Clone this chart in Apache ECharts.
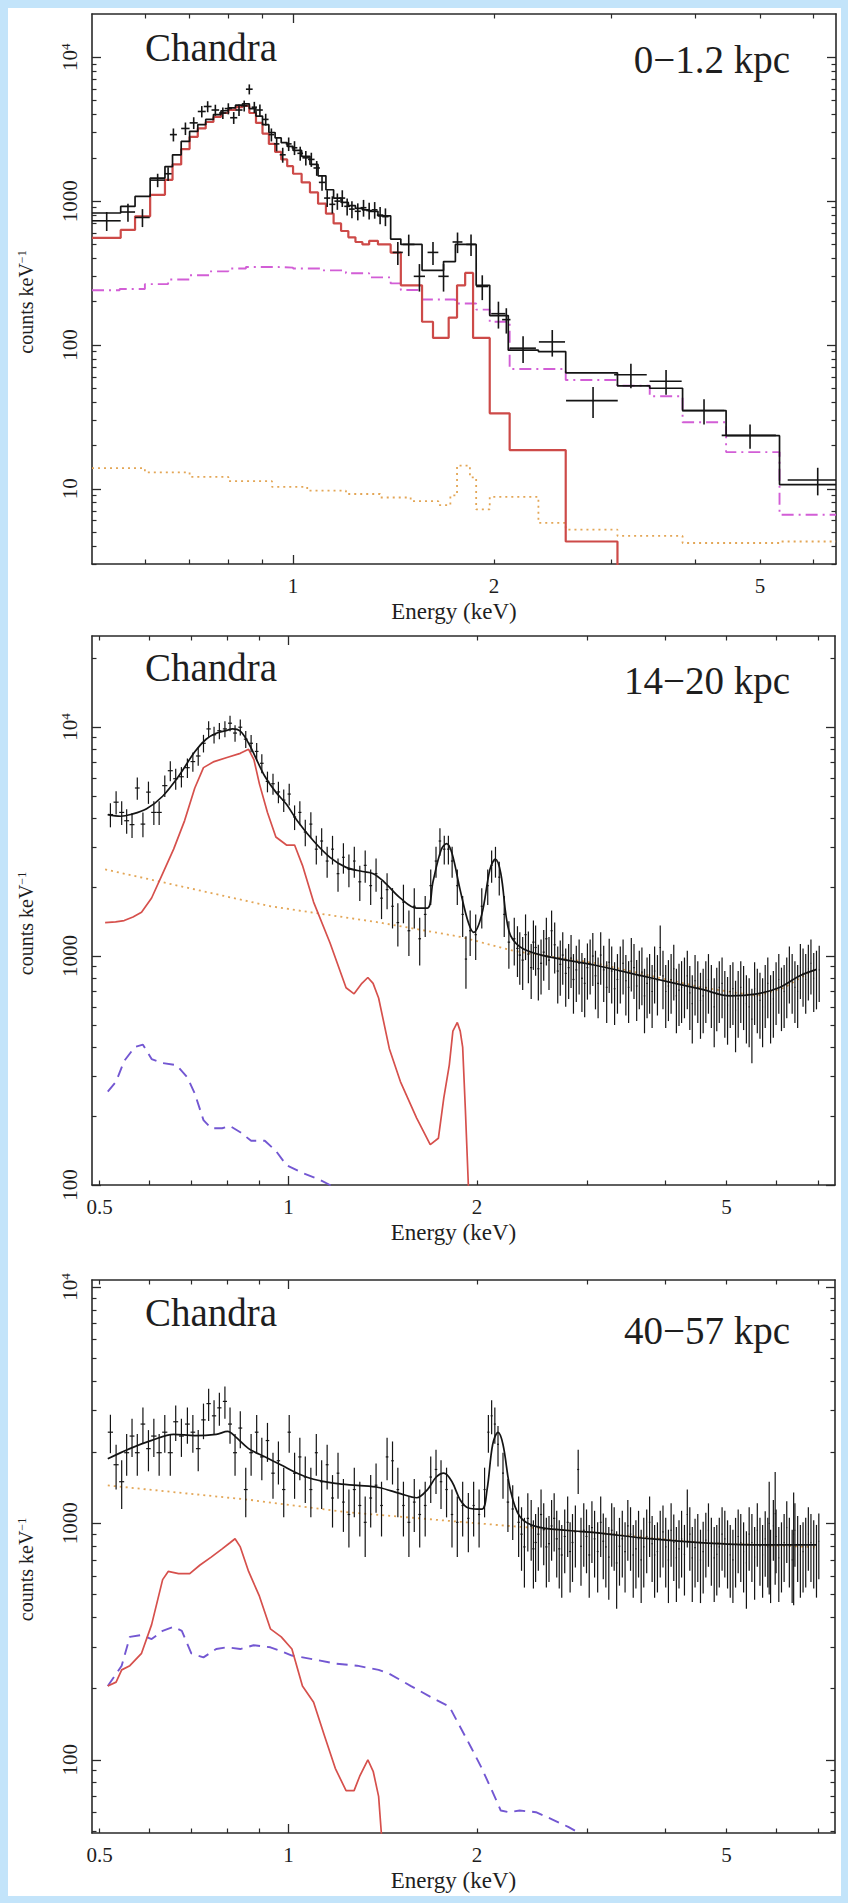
<!DOCTYPE html>
<html><head><meta charset="utf-8">
<script src="https://cdn.jsdelivr.net/npm/echarts@6/dist/echarts.min.js"></script>
<style>
html,body{margin:0;padding:0;background:#c3e4fa;width:848px;height:1903px;overflow:hidden;}
#card{position:absolute;left:8px;top:8px;width:833px;height:1888px;background:#fff;}
#chart{position:absolute;left:0;top:0;width:848px;height:1903px;}
</style></head>
<body><div id="card"></div><div id="chart"></div>
<script>
// ---------------- tick / label values ----------------
const X_MAJOR = [1];
const X_MINOR_P1 = [0.6,0.7,0.8,0.9,2,3,4,5,6];
const X_MINOR_P23 = [0.5,0.6,0.7,0.8,0.9,2,3,4,5,6,7];
const X_LABELS_P1 = [1,2,5];
const X_LABELS_P23 = [0.5,1,2,5];
const Y_LABELS_P1 = [10,100,1000,10000];
const Y_MINOR_P1 = [3,4,5,6,7,8,9,20,30,40,50,60,70,80,90,200,300,400,500,600,700,800,900,2000,3000,4000,5000,6000,7000,8000,9000];
const Y_LABELS_P2 = [100,1000,10000];
const Y_MINOR_P2 = [200,300,400,500,600,700,800,900,2000,3000,4000,5000,6000,7000,8000,9000,20000];
const Y_LABELS_P3 = [100,1000,10000];
const Y_MINOR_P3 = [50,60,70,80,90,200,300,400,500,600,700,800,900,2000,3000,4000,5000,6000,7000,8000,9000];

// ---------------- panel 1 (0-1.2 kpc) ----------------
const P1_MODEL = [[0.500,827],[0.552,918],[0.580,1078],[0.611,1445],[0.643,1739],[0.660,2100],[0.680,2600],[0.700,3050],[0.720,3400],[0.740,3700],[0.760,4000],[0.780,4250],[0.800,4450],[0.820,4650],[0.840,4750],[0.860,4400],[0.880,3900],[0.900,3400],[0.920,3000],[0.940,2750],[0.960,2550],[0.980,2400],[1.000,2250],[1.030,2050],[1.060,1800],[1.090,1500],[1.120,1200],[1.150,1050],[1.180,980],[1.210,930],[1.240,890],[1.270,870],[1.300,850],[1.340,790],[1.400,545],[1.450,500],[1.560,330],[1.680,380],[1.750,500],[1.880,260],[1.970,160],[2.100,92],[2.330,90],[2.560,64],[3.060,52],[3.420,50],[3.830,35],[4.450,23.4],[5.350,10.7],[6.500,10.7]];
const P1_RED = [[0.500,555],[0.552,631],[0.580,784],[0.611,1107],[0.643,1406],[0.660,1800],[0.680,2300],[0.700,2800],[0.720,3200],[0.740,3550],[0.760,3850],[0.780,4100],[0.800,4300],[0.820,4500],[0.840,4600],[0.860,4100],[0.880,3500],[0.900,2950],[0.920,2500],[0.940,2200],[0.960,1950],[0.980,1750],[1.000,1550],[1.030,1350],[1.060,1150],[1.090,960],[1.120,820],[1.150,700],[1.180,620],[1.210,560],[1.240,520],[1.270,500],[1.300,530],[1.340,500],[1.400,439],[1.450,260],[1.560,145],[1.620,112],[1.710,155],[1.760,260],[1.810,317],[1.860,112],[1.970,33.5],[2.110,18.6],[2.560,4.3],[3.060,1]];
const P1_PURPLE = [[0.500,240],[0.550,245],[0.600,265],[0.650,285],[0.700,305],[0.750,325],[0.800,340],[0.850,348],[0.900,348],[0.950,345],[1.000,340],[1.100,330],[1.200,315],[1.300,295],[1.400,268],[1.450,241],[1.560,207],[1.750,194],[1.880,176],[1.970,145],[2.110,68],[2.560,57],[3.060,52],[3.420,44],[3.830,29],[4.450,18],[5.350,6.6],[6.500,6.6]];
const P1_ORANGE = [[0.500,13.9],[0.600,13.0],[0.700,12.1],[0.800,11.3],[0.930,10.3],[1.050,9.7],[1.200,9.2],[1.350,8.7],[1.500,8.2],[1.650,7.7],[1.720,9.0],[1.760,14.5],[1.840,12.0],[1.880,7.2],[1.970,8.8],[2.330,5.8],[2.560,5.2],[3.060,4.7],[3.830,4.2],[5.350,4.3],[6.500,4.3]];
// [energy, counts, half bin width, error]
const P1_DATA = [[0.526,730,0.026,110],[0.566,840,0.014,120],[0.595,770,0.015,110],[0.627,1400,0.016,150],[0.650,1550,0.008,170],[0.662,2900,0.008,300],[0.690,3200,0.010,320],[0.710,3500,0.010,330],[0.730,4200,0.010,380],[0.745,4550,0.010,400],[0.765,4300,0.010,380],[0.785,4100,0.010,380],[0.800,4400,0.010,390],[0.815,3800,0.010,360],[0.830,4300,0.010,390],[0.845,4600,0.010,400],[0.860,6000,0.010,480],[0.875,4500,0.008,400],[0.892,4300,0.009,390],[0.910,3700,0.009,350],[0.928,2900,0.009,300],[0.945,2500,0.009,280],[0.965,2100,0.010,250],[0.985,2500,0.010,270],[1.005,2350,0.010,260],[1.025,2150,0.010,240],[1.045,2000,0.012,230],[1.065,1950,0.012,220],[1.085,1700,0.012,200],[1.105,1350,0.012,170],[1.125,1050,0.012,140],[1.145,950,0.012,130],[1.165,1000,0.012,130],[1.185,1050,0.012,140],[1.205,920,0.012,125],[1.225,880,0.012,120],[1.250,850,0.013,115],[1.275,900,0.013,120],[1.300,860,0.013,115],[1.325,870,0.013,115],[1.350,800,0.015,110],[1.375,780,0.015,110],[1.435,440,0.025,80],[1.490,500,0.030,85],[1.546,300,0.030,65],[1.620,440,0.030,80],[1.680,300,0.030,65],[1.763,520,0.030,85],[1.847,500,0.030,85],[1.920,255,0.040,50],[2.030,165,0.050,35],[2.086,150,0.030,30],[2.210,95,0.100,20],[2.444,105,0.110,22],[2.813,41,0.250,10],[3.205,62,0.180,12],[3.618,56,0.200,11],[4.124,35,0.300,7],[4.833,23.5,0.450,4.5],[6.103,11.5,0.600,2.5]];

// ---------------- panel 2 (14-20 kpc) ----------------
const P2_MODEL = [[0.515,4150],[0.540,4080],[0.560,4150],[0.594,4400],[0.630,4990],[0.668,6100],[0.709,7800],[0.739,8850],[0.767,9400],[0.800,9700],[0.814,9820],[0.838,9600],[0.864,8500],[0.890,7200],[0.917,6100],[0.955,5200],[0.993,4600],[1.033,3900],[1.097,3180],[1.165,2700],[1.236,2440],[1.313,2340],[1.366,2290],[1.421,2110],[1.509,1790],[1.602,1620],[1.667,1620],[1.701,2110],[1.752,2900],[1.788,3100],[1.824,2810],[1.879,1950],[1.937,1400],[1.975,1270],[2.035,1520],[2.097,2390],[2.139,2650],[2.182,2300],[2.248,1290],[2.339,1100],[2.533,1010],[3.088,912],[3.765,806],[4.590,713],[5.068,670],[5.597,684],[6.060,727],[6.560,823],[6.964,875]];
const P2_RED = [[0.510,1400],[0.530,1410],[0.547,1429],[0.565,1480],[0.583,1552],[0.605,1793],[0.630,2293],[0.656,2932],[0.683,3905],[0.709,5420],[0.732,6653],[0.761,7070],[0.798,7370],[0.838,7680],[0.864,8000],[0.881,7210],[0.899,5650],[0.926,4236],[0.955,3313],[0.993,3054],[1.023,3054],[1.053,2490],[1.097,1721],[1.165,1143],[1.236,727],[1.273,684],[1.310,760],[1.339,806],[1.365,760],[1.393,656],[1.449,394],[1.509,283],[1.602,196],[1.684,150],[1.735,160],[1.770,240],[1.806,334],[1.830,470],[1.860,513],[1.880,470],[1.897,400],[1.916,213],[1.937,100],[1.940,50]];
const P2_PURPLE = [[0.515,256],[0.531,283],[0.547,348],[0.569,401],[0.586,410],[0.605,355],[0.630,341],[0.663,334],[0.690,295],[0.709,251],[0.732,192],[0.753,177],[0.784,177],[0.807,181],[0.838,170],[0.872,156],[0.917,156],[0.955,141],[0.993,122],[1.053,113],[1.118,106],[1.165,100],[1.200,95]];
const P2_ORANGE = [[0.510,2390],[0.936,1650],[1.393,1403],[1.879,1214],[2.293,1052],[3.088,931],[4.590,727],[5.597,670],[6.180,727],[6.820,857],[7.000,880]];
const P2_DATA = [[0.520,4150,.005,500],[0.531,4700,.005,550],[0.542,4240,.005,500],[0.552,3900,.005,480],[0.563,3750,.005,470],[0.574,5420,.005,600],[0.586,3770,.005,470],[0.598,5200,.005,580],[0.610,4240,.006,500],[0.622,4240,.006,500],[0.635,5550,.006,600],[0.648,6450,.006,650],[0.661,5950,.006,620],[0.675,6070,.006,620],[0.690,6650,.006,650],[0.704,7070,.006,680],[0.718,7480,.006,700],[0.732,8500,.006,750],[0.746,9820,.006,800],[0.761,9260,.006,780],[0.776,9640,.006,790],[0.792,9820,.006,800],[0.807,10400,.006,820],[0.822,9420,.006,780],[0.838,9990,.006,800],[0.855,8860,.006,760],[0.872,8500,.006,740],[0.890,7830,.006,700],[0.907,6950,.006,660],[0.926,5790,.006,600],[0.945,5660,.006,590],[0.964,5210,.006,560],[0.983,4800,.006,540],[1.003,5100,.006,560],[1.023,4050,.006,500],[1.043,4240,.006,510],[1.064,3480,.006,460],[1.086,3770,.006,480],[1.108,2930,.006,420],[1.130,3180,.006,440],[1.153,2600,.006,400],[1.176,2930,.006,420],[1.200,2290,.006,380],[1.224,2700,.006,410],[1.249,2390,.006,390],[1.274,2600,.006,400],[1.300,2110,.007,370],[1.326,2490,.007,400],[1.353,2030,.007,360],[1.380,2290,.007,380],[1.408,1790,.007,340],[1.437,1950,.007,350],[1.466,1650,.007,330],[1.495,1400,.007,300],[1.526,1720,.007,330],[1.557,1290,.008,290],[1.588,1650,.008,330],[1.620,1190,.008,280],[1.653,1520,.008,310],[1.687,2030,.008,360],[1.720,2600,.008,400],[1.745,3180,.008,440],[1.773,2930,.008,420],[1.800,2930,.008,420],[1.825,2600,.008,400],[1.860,2030,.008,360],[1.897,1520,.008,310],[1.920,970,.008,250],[1.950,1290,.008,290],[1.990,1240,.008,280],[2.035,1650,.008,330],[2.080,2030,.008,360],[2.110,2490,.008,400],[2.140,2600,.008,400],[2.170,2210,.008,370],[2.210,1520,.008,310],[2.248,1150,.01,270],[2.293,1190,.01,280],[2.340,1010,.01,260],[2.390,1240,.01,280],[2.440,890,.01,240],[2.480,1090,.01,270],[2.530,930,.01,250],[2.580,1190,.01,280],[2.630,1290,.01,290],[2.690,860,.01,240],[2.740,1010,.01,260],[2.800,890,.01,240],[2.850,790,.01,230],[2.910,930,.01,250],[2.970,760,.01,220],[3.030,930,.01,250],[3.090,820,.01,235],[3.150,1010,.01,260],[3.220,730,.01,220],[3.280,860,.01,240],[3.350,790,.01,230],[3.420,930,.01,250],[3.490,730,.01,220],[3.560,890,.01,240],[3.630,820,.01,235],[3.700,670,.01,210],[3.770,790,.01,230],[3.840,860,.01,240],[3.920,1090,.01,270],[4.000,700,.01,215],[4.080,790,.01,230],[4.160,670,.01,210],[4.240,730,.01,220],[4.330,820,.01,235],[4.410,620,.01,205],[4.500,730,.01,220],[4.590,670,.01,210],[4.680,790,.01,230],[4.780,600,.01,200],[4.870,730,.01,220],[4.970,650,.01,210],[5.070,700,.01,215],[5.170,580,.01,200],[5.270,730,.01,220],[5.380,620,.01,205],[5.490,530,.01,190],[5.600,670,.01,210],[5.710,600,.01,200],[5.820,760,.01,225],[5.940,650,.01,210],[6.060,790,.01,230],[6.180,700,.01,215],[6.300,860,.01,240],[6.430,730,.01,220],[6.560,890,.01,240],[6.690,790,.01,230],[6.820,930,.01,250],[6.960,820,.01,235],
[2.32,1080,.01,270],[2.365,960,.01,250],[2.415,1020,.01,260],[2.46,1150,.01,280],[2.505,880,.01,240],[2.555,1040,.01,260],[2.605,960,.01,250],[2.66,1120,.01,280],[2.715,920,.01,250],[2.77,840,.01,240],[2.825,980,.01,255],[2.88,870,.01,240],[2.94,800,.01,230],[3.0,890,.01,245],[3.06,1000,.01,260],[3.12,760,.01,225],[3.185,870,.01,240],[3.25,940,.01,250],[3.315,720,.01,220],[3.385,860,.01,240],[3.455,780,.01,230],[3.525,950,.01,250],[3.595,740,.01,220],[3.665,850,.01,240],[3.735,760,.01,225],[3.805,700,.01,215],[3.88,780,.01,230],[3.96,820,.01,235],[4.04,740,.01,220],[4.12,880,.01,240],[4.2,710,.01,215],[4.285,760,.01,225],[4.37,690,.01,215],[4.455,780,.01,230],[4.545,640,.01,205],[4.635,730,.01,220],[4.73,700,.01,215],[4.825,680,.01,210],[4.92,760,.01,225],[5.02,610,.01,200],[5.12,720,.01,220],[5.22,650,.01,210],[5.325,690,.01,215],[5.435,600,.01,200],[5.545,720,.01,220],[5.655,640,.01,205],[5.765,700,.01,215],[5.88,620,.01,205],[6.0,720,.01,220],[6.12,680,.01,210],[6.24,760,.01,225],[6.365,790,.01,230],[6.495,700,.01,215],[6.625,840,.01,240],[6.755,880,.01,240],[6.89,800,.01,230],[7.03,870,.01,240]];

// ---------------- panel 3 (40-57 kpc) ----------------
const P3_MODEL = [[0.515,1875],[0.5585,2071],[0.605,2243],[0.656,2381],[0.709,2351],[0.767,2381],[0.800,2448],[0.822,2333],[0.864,2071],[0.917,1911],[0.974,1766],[1.033,1630],[1.097,1536],[1.188,1476],[1.287,1447],[1.393,1418],[1.509,1335],[1.602,1283],[1.667,1390],[1.720,1567],[1.770,1630],[1.824,1500],[1.879,1259],[1.937,1162],[2.035,1148],[2.075,1390],[2.118,2155],[2.160,2428],[2.200,2155],[2.260,1390],[2.339,1072],[2.480,971],[2.796,933],[3.088,914],[3.765,861],[4.590,827],[5.597,811],[6.960,811]];
const P3_RED = [[0.515,205],[0.531,213],[0.542,240],[0.5585,250],[0.583,282],[0.605,373],[0.630,578],[0.643,626],[0.668,613],[0.696,613],[0.722,665],[0.753,720],[0.784,780],[0.807,828],[0.822,861],[0.838,795],[0.864,626],[0.899,492],[0.936,358],[0.974,331],[1.013,294],[1.053,205],[1.097,175],[1.141,127],[1.188,92],[1.236,74],[1.273,74],[1.299,85],[1.339,100],[1.366,89],[1.393,70],[1.407,49],[1.410,30]];
const P3_PURPLE = [[0.515,205],[0.531,231],[0.542,250],[0.5585,331],[0.583,337],[0.605,324],[0.630,351],[0.656,365],[0.676,351],[0.700,282],[0.732,271],[0.767,294],[0.798,299],[0.838,294],[0.880,305],[0.936,299],[0.974,288],[1.013,276],[1.097,266],[1.188,255],[1.287,250],[1.393,240],[1.449,231],[1.569,205],[1.701,182],[1.806,168],[1.879,138],[1.956,113],[2.035,92],[2.118,73],[2.182,61],[2.248,60],[2.339,61],[2.483,60],[2.634,56],[2.796,52],[2.910,49],[2.950,45]];
const P3_ORANGE = [[0.515,1447],[0.864,1259],[1.236,1116],[1.602,1052],[2.293,971],[3.088,914],[4.590,827],[6.820,795],[7.000,795]];
const P3_DATA = [[0.520,2430,.005,450],[0.531,1770,.005,380],[0.542,1500,.005,350],[0.552,1990,.005,400],[0.563,2340,.005,430],[0.574,1990,.005,400],[0.586,2630,.005,460],[0.598,2070,.005,410],[0.610,2340,.006,430],[0.622,1990,.006,400],[0.635,2430,.006,440],[0.648,1990,.006,400],[0.661,2690,.006,460],[0.675,2340,.006,430],[0.690,2630,.006,460],[0.704,2430,.006,440],[0.718,2070,.006,410],[0.732,2740,.006,470],[0.746,3210,.006,500],[0.761,2850,.006,470],[0.776,3080,.006,490],[0.792,3280,.006,510],[0.807,2630,.006,460],[0.822,1990,.006,400],[0.838,2530,.006,450],[0.855,1390,.006,330],[0.872,1990,.006,400],[0.890,2430,.006,440],[0.907,1910,.006,390],[0.926,2240,.006,420],[0.945,1630,.006,360],[0.964,1840,.006,380],[0.983,1390,.006,330],[1.003,2430,.006,440],[1.023,1630,.006,360],[1.043,1910,.006,390],[1.064,1570,.006,350],[1.086,1390,.006,330],[1.108,1990,.006,400],[1.130,1500,.006,350],[1.153,1770,.006,380],[1.176,1280,.006,320],[1.200,1630,.006,360],[1.224,1230,.006,310],[1.249,1090,.006,300],[1.274,1390,.007,330],[1.300,1190,.007,310],[1.326,1010,.007,290],[1.353,1280,.007,320],[1.380,1450,.007,340],[1.408,1190,.007,310],[1.437,1910,.007,390],[1.466,1840,.007,380],[1.495,1390,.007,330],[1.526,1190,.007,310],[1.557,1010,.008,290],[1.588,1230,.008,310],[1.620,1090,.008,300],[1.653,1190,.008,310],[1.687,1570,.008,350],[1.720,1690,.008,360],[1.752,1500,.008,350],[1.788,1390,.008,330],[1.824,1090,.008,300],[1.860,1010,.008,290],[1.897,1190,.008,310],[1.937,1050,.008,295],[1.975,1190,.008,310],[2.015,1090,.008,300],[2.056,1390,.008,330],[2.085,2430,.008,440],[2.110,2850,.008,470],[2.135,2630,.008,460],[2.160,2160,.008,420],[2.200,1630,.008,360],[2.240,1230,.01,310],[2.280,1150,.01,300],[2.330,1010,.01,290],[2.380,795,.01,260],[2.440,975,.01,280],[2.480,830,.01,265],[2.530,1090,.01,300],[2.580,795,.01,260],[2.630,975,.01,280],[2.680,860,.01,270],[2.730,735,.01,250],[2.790,1010,.01,290],[2.840,830,.01,265],[2.900,1690,.01,360],[2.960,935,.01,280],[3.020,735,.01,250],[3.080,860,.01,270],[3.150,1010,.01,290],[3.210,795,.01,260],[3.280,935,.01,280],[3.340,680,.01,245],[3.410,860,.01,270],[3.480,975,.01,280],[3.550,735,.01,250],[3.620,860,.01,270],[3.690,795,.01,260],[3.770,1010,.01,290],[3.840,735,.01,250],[3.920,860,.01,270],[4.000,795,.01,260],[4.080,935,.01,280],[4.160,715,.01,250],[4.240,860,.01,270],[4.330,1090,.01,300],[4.410,715,.01,250],[4.500,830,.01,265],[4.590,760,.01,255],[4.680,935,.01,280],[4.780,715,.01,250],[4.870,795,.01,260],[4.970,860,.01,270],[5.070,735,.01,250],[5.170,795,.01,260],[5.270,830,.01,265],[5.380,680,.01,245],[5.490,830,.01,265],[5.600,935,.01,280],[5.710,735,.01,250],[5.820,795,.01,260],[5.940,975,.01,280],[6.060,715,.01,250],[6.180,830,.01,265],[6.300,795,.01,260],[6.430,935,.01,280],[6.560,735,.01,250],[6.690,795,.01,260],[6.820,830,.01,265],[6.960,735,.01,250],
[2.355,900,.01,270],[2.41,1050,.01,290],[2.46,780,.01,250],[2.505,900,.01,270],[2.555,940,.01,275],[2.605,820,.01,255],[2.655,1050,.01,290],[2.705,780,.01,250],[2.76,880,.01,265],[2.815,760,.01,250],[2.87,920,.01,270],[2.93,800,.01,255],[2.99,880,.01,265],[3.05,960,.01,280],[3.115,760,.01,250],[3.18,840,.01,260],[3.245,720,.01,245],[3.31,900,.01,270],[3.375,800,.01,255],[3.445,760,.01,250],[3.515,900,.01,270],[3.585,780,.01,250],[3.655,700,.01,240],[3.73,880,.01,265],[3.805,820,.01,255],[3.88,760,.01,250],[3.96,920,.01,270],[4.04,700,.01,240],[4.12,830,.01,260],[4.2,780,.01,250],[4.285,740,.01,245],[4.37,900,.01,270],[4.455,790,.01,255],[4.545,700,.01,240],[4.635,850,.01,260],[4.73,800,.01,255],[4.825,740,.01,245],[4.92,900,.01,270],[5.02,780,.01,250],[5.12,700,.01,240],[5.22,880,.01,265],[5.325,760,.01,250],[5.435,900,.01,270],[5.545,720,.01,245],[5.655,800,.01,255],[5.765,860,.01,265],[5.85,1000,.01,500],[5.88,700,.01,240],[5.98,1100,.01,550],[6.0,880,.01,265],[6.12,760,.01,250],[6.24,960,.01,280],[6.365,700,.01,240],[6.4,900,.01,450],[6.495,820,.01,255],[6.625,760,.01,250],[6.755,900,.01,270],[6.89,780,.01,250],[7.02,840,.01,260]];

// ---------------- styling & layout ----------------
const FONT = '"Liberation Serif", "Times New Roman", serif';
const TXT = '#1e1e1e';
const AX = '#2a2a2a';
const BLACK = '#141414';

const PANELS = [
  {grid:{left:92, top:14, width:744, height:550}, x:[0.5,6.5], y:[3,20000],
   xLabels:X_LABELS_P1, xMinor:X_MINOR_P1, yLabels:Y_LABELS_P1, yMinor:Y_MINOR_P1,
   chandraTop:28, region:'0\u22121.2 kpc', regionTop:40,
   model:P1_MODEL, red:P1_RED, purple:P1_PURPLE, orange:P1_ORANGE, data:P1_DATA,
   step:true, purpleColor:'#d25ed6', purpleType:[12,5,2,5], redColor:'#cd4a48', redWidth:2.2, dataWidth:1.6},
  {grid:{left:92, top:636, width:743, height:549}, x:[0.486,7.45], y:[100,25000],
   xLabels:X_LABELS_P23, xMinor:X_MINOR_P23, yLabels:Y_LABELS_P2, yMinor:Y_MINOR_P2,
   chandraTop:648, region:'14\u221220 kpc', regionTop:661,
   model:P2_MODEL, red:P2_RED, purple:P2_PURPLE, orange:P2_ORANGE, data:P2_DATA,
   step:false, purpleColor:'#7357d2', purpleType:[11,7], redColor:'#d6504c', redWidth:1.7, dataWidth:1.2},
  {grid:{left:92, top:1280, width:743, height:553}, x:[0.486,7.45], y:[49,10700],
   xLabels:X_LABELS_P23, xMinor:X_MINOR_P23, yLabels:Y_LABELS_P3, yMinor:Y_MINOR_P3,
   chandraTop:1293, region:'40\u221257 kpc', regionTop:1311,
   model:P3_MODEL, red:P3_RED, purple:P3_PURPLE, orange:P3_ORANGE, data:P3_DATA,
   step:false, purpleColor:'#7357d2', purpleType:[11,7], redColor:'#d6504c', redWidth:1.7, dataWidth:1.2}
];

function fmtTick(v) {
  const r = Math.round(v);
  if (Math.abs(v - r) < 1e-6 * Math.max(1, Math.abs(v))) {
    if (r === 10000) return '10{s|4}';
    return String(r);
  }
  return String(Number(v.toPrecision(3)));
}

function crossSeries(data, axisIdx, color, width) {
  return {
    type:'custom', xAxisIndex:axisIdx, yAxisIndex:axisIdx, clip:true, silent:true, z:4,
    dimensions:['E','v','dE','dv'], encode:{x:0, y:1}, data:data,
    renderItem:function(params, api) {
      const E = api.value(0), v = api.value(1), dE = api.value(2), dv = api.value(3);
      const lo = Math.max(v - dv, v * 0.25);
      const a = api.coord([E - dE, v]), b = api.coord([E + dE, v]);
      const c = api.coord([E, v + dv]), d = api.coord([E, lo]);
      const st = {stroke:color, lineWidth:width};
      return {type:'group', children:[
        {type:'line', shape:{x1:a[0], y1:a[1], x2:b[0], y2:b[1]}, style:st},
        {type:'line', shape:{x1:c[0], y1:c[1], x2:d[0], y2:d[1]}, style:st}
      ]};
    }
  };
}

const option = {animation:false, backgroundColor:'transparent', title:[], grid:[], xAxis:[], yAxis:[], series:[]};
const titleStyle = {fontFamily:FONT, fontSize:39, fontWeight:'normal', color:TXT};

PANELS.forEach(function(p, i) {
  const g0 = 2*i, g1 = 2*i + 1, ai = 4*i;
  option.grid.push(Object.assign({}, p.grid), Object.assign({}, p.grid));
  option.title.push({text:'Chandra', left:145, top:p.chandraTop, padding:0, textStyle:titleStyle});
  option.title.push({text:p.region, right:58, top:p.regionTop, padding:0, textStyle:titleStyle});

  const xb = {type:'log', logBase:10, min:p.x[0], max:p.x[1], splitLine:{show:false}};
  const yb = {type:'log', logBase:10, min:p.y[0], max:p.y[1], splitLine:{show:false}};
  const line = {show:true, lineStyle:{color:AX, width:1.6}};
  const major = {show:true, inside:true, length:9, lineStyle:{color:AX, width:1.3}};
  const minor = {show:true, inside:true, length:4.5, lineStyle:{color:AX, width:1.2}};
  const rich = {s:{fontFamily:FONT, fontSize:13, color:TXT, verticalAlign:'top'}};

  option.xAxis.push(
    Object.assign({}, xb, {gridIndex:g0, position:'bottom', axisLine:line,
      axisTick:Object.assign({customValues:X_MAJOR}, major),
      axisLabel:{show:true, customValues:p.xLabels, formatter:fmtTick, margin:11, fontFamily:FONT, fontSize:21, color:TXT},
      name:'Energy (keV)', nameLocation:'middle', nameGap:36,
      nameTextStyle:{fontFamily:FONT, fontSize:23, color:TXT, padding:[0,20,0,0]}}),
    Object.assign({}, xb, {gridIndex:g0, position:'top', axisLine:line,
      axisTick:Object.assign({customValues:X_MAJOR}, major), axisLabel:{show:false}}),
    Object.assign({}, xb, {gridIndex:g1, position:'bottom', axisLine:{show:false},
      axisTick:Object.assign({customValues:p.xMinor}, minor), axisLabel:{show:false}}),
    Object.assign({}, xb, {gridIndex:g1, position:'top', axisLine:{show:false},
      axisTick:Object.assign({customValues:p.xMinor}, minor), axisLabel:{show:false}})
  );
  option.yAxis.push(
    Object.assign({}, yb, {gridIndex:g0, position:'left', axisLine:line,
      axisTick:Object.assign({customValues:p.yLabels}, major),
      axisLabel:{show:true, customValues:p.yLabels, formatter:fmtTick, rotate:90, margin:12, fontFamily:FONT, fontSize:21, color:TXT, rich:rich},
      name:'counts keV{s|\u22121}', nameLocation:'middle', nameGap:56,
      nameTextStyle:{fontFamily:FONT, fontSize:20, color:TXT, padding:[0,26,0,0], rich:{s:{fontFamily:FONT, fontSize:12, color:TXT, verticalAlign:'top'}}}}),
    Object.assign({}, yb, {gridIndex:g0, position:'right', axisLine:line,
      axisTick:Object.assign({customValues:p.yLabels}, major), axisLabel:{show:false}}),
    Object.assign({}, yb, {gridIndex:g1, position:'left', axisLine:{show:false},
      axisTick:Object.assign({customValues:p.yMinor}, minor), axisLabel:{show:false}}),
    Object.assign({}, yb, {gridIndex:g1, position:'right', axisLine:{show:false},
      axisTick:Object.assign({customValues:p.yMinor}, minor), axisLabel:{show:false}})
  );

  const base = {type:'line', xAxisIndex:ai, yAxisIndex:ai, showSymbol:false, symbol:'none', silent:true, clip:true};
  option.series.push(
    Object.assign({}, base, {data:p.orange, step:p.step ? 'end' : false, z:2,
      lineStyle:{color:'#e3a656', width:1.8, type:[2,4]}}),
    Object.assign({}, base, {data:p.purple, step:p.step ? 'end' : false, z:2,
      lineStyle:{color:p.purpleColor, width:1.9, type:p.purpleType}}),
    Object.assign({}, base, {data:p.red, step:p.step ? 'end' : false, z:3,
      lineStyle:{color:p.redColor, width:p.redWidth}}),
    crossSeries(p.data, ai, BLACK, p.dataWidth),
    Object.assign({}, base, {data:p.model, step:p.step ? 'end' : false, smooth:p.step ? false : 0.35, z:5,
      lineStyle:{color:BLACK, width:1.7}})
  );
});

const chart = echarts.init(document.getElementById('chart'), null, {renderer:'svg', width:848, height:1903});
chart.setOption(option);
</script>
</body></html>
